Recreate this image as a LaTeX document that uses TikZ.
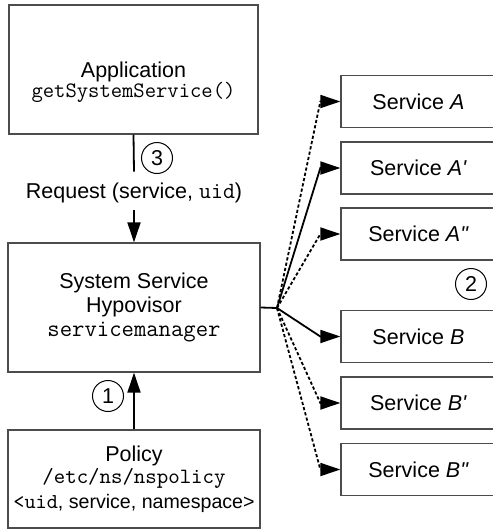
\documentclass[tikz,border=0pt]{standalone}
\usepackage{fontspec}
\setmainfont{Liberation Sans}
\newfontfamily\svcfont{Liberation Sans}
\usetikzlibrary{arrows.meta}
\tikzset{
    box/.style={draw=black!70, line width=0.65pt, rectangle, align=center, inner sep=0pt},
    svc/.style={box, minimum width=77.5pt, minimum height=26pt, font=\fontsize{10.75}{12}\svcfont},
    link/.style={line width=0.9pt},
    flow/.style={link, -{Triangle[length=10pt,width=6.5pt]}},
    num/.style={draw, circle, minimum size=15.5pt, inner sep=0pt, line width=0.5pt},
    dots/.style={dash pattern=on 1.6pt off 1.1pt},
}
\begin{document}
\begin{tikzpicture}[x=0.5pt,y=-0.5pt,font=\fontsize{10.75}{12}\selectfont]
    \useasboundingbox (0,0) rectangle (493,531);
    %left column
    \node[box, minimum width=124.5pt, minimum height=64.5pt] (app) at (133.5,69.5) {};
    \node[align=center, inner sep=0pt] (apptxt) at (133.5,82) {Application\\[-1.8pt]{\fontsize{11}{11}\selectfont\ttfamily getSystemService()}};
    \node[anchor=base, text height=8pt, text depth=1pt, inner ysep=5pt, inner xsep=0pt] (req) at (134,198) {Request (service, {\fontsize{11.6}{12}\selectfont\ttfamily uid})};
    \node[box, minimum width=126pt, minimum height=64.5pt] (ssh) at (134,307.5) {System Service\\Hypovisor\\{\fontsize{12}{12}\selectfont\ttfamily servicemanager}};
    \node[box, minimum width=126pt, minimum height=49pt] (pol) at (134,479) {Policy\\[-1pt]{\fontsize{10.9}{11}\selectfont\ttfamily /etc/ns/nspolicy}\\[0.5pt]{\fontsize{9.8}{11}\selectfont{\fontsize{10.6}{11}\selectfont\ttfamily<uid}, service, namespace>}};
    %step numbers
    \node[num] (n3) at (157,158) {3};
    \node[num] (n1) at (108,396) {1};
    \node[num] (n2) at (471,284) {2};
    %services
    \foreach \nm/\lbl/\yy in {sA/A/101.5, sAp/A'/168, sApp/A"/234, sB/B/336.5, sBp/B'/403, sBpp/B"/469.5}
        {%
            \node[svc] (\nm) at (418.5,\yy) {Service \textit{\lbl}};
        }
    %draw lines
    \draw [link] (app.south) -- (req.north);
    \draw [flow] (req.south) -- (ssh.north);
    \draw [flow] (pol.north) -- (ssh.south);
    \coordinate (fan) at (277,308);
    \draw [link] (ssh.east) -- (fan);
    \foreach \nm/\pat in {sA/dots, sAp/solid, sApp/dots, sB/solid, sBp/dots, sBpp/dots}
        {%
            \draw [flow,\pat] (fan) -- ([xshift=-10pt]\nm.west) -- (\nm.west);
        }
\end{tikzpicture}
\end{document}
